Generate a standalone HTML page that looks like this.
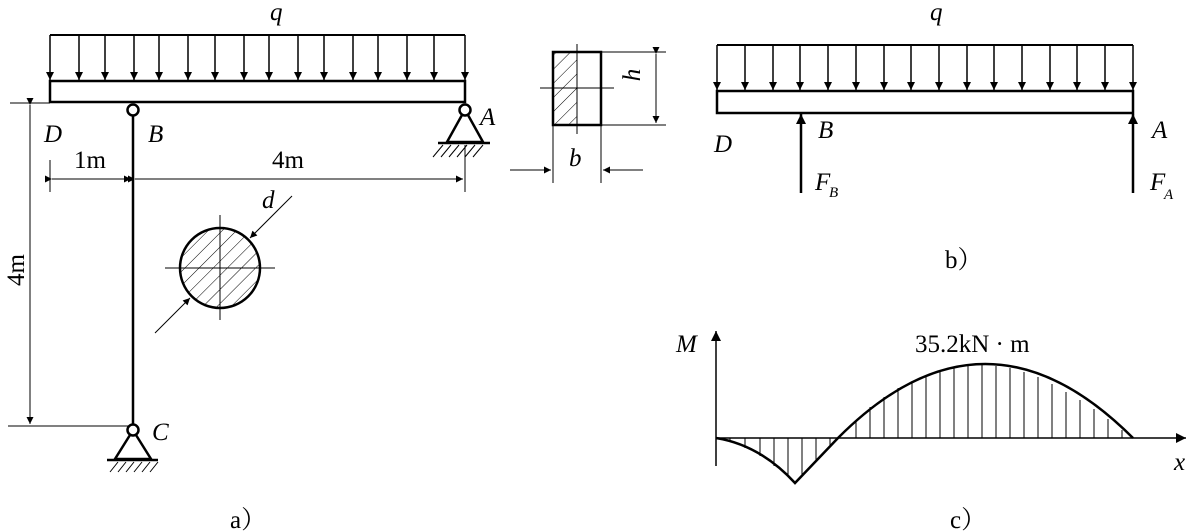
<!DOCTYPE html>
<html><head><meta charset="utf-8"><style>
body{margin:0;background:#fff}
svg{display:block}
text{font-family:"Liberation Serif","Noto Serif CJK SC",serif;fill:#000}
.i{font-style:italic}
</style></head><body>
<svg width="1190" height="532" viewBox="0 0 1190 532">
<defs>
<marker id="ar" viewBox="0 0 10 10" refX="10" refY="5" markerWidth="20" markerHeight="7" markerUnits="userSpaceOnUse" orient="auto"><path d="M0,0 L10,5 L0,10 Z" fill="#000"/></marker>
<marker id="ab" viewBox="0 0 10 10" refX="10" refY="5" markerWidth="16" markerHeight="8" markerUnits="userSpaceOnUse" orient="auto"><path d="M0,0 L10,5 L0,10 Z" fill="#000"/></marker>
<marker id="ac" viewBox="0 0 10 10" refX="10" refY="5" markerWidth="20" markerHeight="10" markerUnits="userSpaceOnUse" orient="auto"><path d="M0,0 L10,5 L0,10 Z" fill="#000"/></marker>
<pattern id="hatch" width="10" height="10" patternUnits="userSpaceOnUse" patternTransform="rotate(45)"><line x1="0" y1="0" x2="0" y2="10" stroke="#000" stroke-width="1"/></pattern>
<clipPath id="cc"><circle cx="220" cy="268" r="40"/></clipPath>
</defs>
<g stroke="#000" fill="none" stroke-width="1.5">
<line x1="50" y1="35" x2="465" y2="35" stroke-width="2"/>
<g stroke-width="1.5">
<line x1="50" y1="35" x2="50" y2="80" marker-end="url(#ab)"/><line x1="79" y1="35" x2="79" y2="80" marker-end="url(#ab)"/><line x1="105" y1="35" x2="105" y2="80" marker-end="url(#ab)"/><line x1="134" y1="35" x2="134" y2="80" marker-end="url(#ab)"/><line x1="159" y1="35" x2="159" y2="80" marker-end="url(#ab)"/><line x1="188" y1="35" x2="188" y2="80" marker-end="url(#ab)"/><line x1="215" y1="35" x2="215" y2="80" marker-end="url(#ab)"/><line x1="244" y1="35" x2="244" y2="80" marker-end="url(#ab)"/><line x1="269" y1="35" x2="269" y2="80" marker-end="url(#ab)"/><line x1="298" y1="35" x2="298" y2="80" marker-end="url(#ab)"/><line x1="324" y1="35" x2="324" y2="80" marker-end="url(#ab)"/><line x1="353" y1="35" x2="353" y2="80" marker-end="url(#ab)"/><line x1="378" y1="35" x2="378" y2="80" marker-end="url(#ab)"/><line x1="407" y1="35" x2="407" y2="80" marker-end="url(#ab)"/><line x1="434" y1="35" x2="434" y2="80" marker-end="url(#ab)"/><line x1="465" y1="35" x2="465" y2="80" marker-end="url(#ab)"/>
</g>
<rect x="50" y="81" width="415" height="21" stroke-width="2.5"/>
<line x1="133" y1="116" x2="133" y2="424" stroke-width="2.5"/>
<circle cx="133" cy="110" r="5.5" stroke-width="2.5" fill="#fff"/>
<circle cx="133" cy="430" r="5.5" stroke-width="2.5" fill="#fff"/>
<path d="M130,435 L115,459 L151,459 L136,435" stroke-width="2.5"/>
<line x1="107" y1="460" x2="158" y2="460" stroke-width="2.5"/>
<path d="M110,472l8,-10M118,472l8,-10M126,472l8,-10M134,472l8,-10M142,472l8,-10M150,472l8,-10" stroke-width="1"/>
<circle cx="465" cy="110" r="5.5" stroke-width="2.5" fill="#fff"/>
<path d="M462,115 L447,142 L483,142 L468,115" stroke-width="2.5"/>
<line x1="438" y1="143" x2="490" y2="143" stroke-width="2.5"/>
<path d="M433,157l10,-12M441,157l10,-12M449,157l10,-12M457,157l10,-12M465,157l10,-12M473,157l10,-12" stroke-width="1"/>
<line x1="50" y1="160" x2="50" y2="192" stroke-width="1"/>
<line x1="465" y1="145" x2="465" y2="192" stroke-width="1"/>
<line x1="52" y1="179" x2="131" y2="179" marker-start="url(#ar)" marker-end="url(#ar)" stroke-width="1"/>
<line x1="135" y1="179" x2="463" y2="179" marker-start="url(#ar)" marker-end="url(#ar)" stroke-width="1"/>
<line x1="10" y1="103" x2="50" y2="103" stroke-width="1"/>
<line x1="8" y1="426" x2="128" y2="426" stroke-width="1"/>
<line x1="30" y1="105" x2="30" y2="424" marker-start="url(#ar)" marker-end="url(#ar)" stroke-width="1"/>
<rect x="175" y="225" width="90" height="90" fill="url(#hatch)" stroke="none" clip-path="url(#cc)"/>
<circle cx="220" cy="268" r="40" stroke-width="2.5"/>
<line x1="165" y1="268" x2="275" y2="268" stroke-width="1"/>
<line x1="220" y1="215" x2="220" y2="320" stroke-width="1"/>
<line x1="292" y1="196" x2="250" y2="238" stroke-width="1" marker-end="url(#ar)"/>
<line x1="155" y1="333" x2="190" y2="298" stroke-width="1" marker-end="url(#ar)"/>
<rect x="553" y="52" width="24" height="73" fill="url(#hatch)" stroke="none"/>
<rect x="553" y="52" width="48" height="73" stroke-width="2.5"/>
<line x1="540" y1="88" x2="614" y2="88" stroke-width="1"/>
<line x1="577" y1="44" x2="577" y2="134" stroke-width="1"/>
<line x1="601" y1="52" x2="666" y2="52" stroke-width="1"/>
<line x1="601" y1="125" x2="666" y2="125" stroke-width="1"/>
<line x1="656" y1="54" x2="656" y2="123" marker-start="url(#ar)" marker-end="url(#ar)" stroke-width="1"/>
<line x1="553" y1="125" x2="553" y2="183" stroke-width="1"/>
<line x1="601" y1="125" x2="601" y2="183" stroke-width="1"/>
<line x1="510" y1="170" x2="551" y2="170" marker-end="url(#ar)" stroke-width="1"/>
<line x1="643" y1="170" x2="603" y2="170" marker-end="url(#ar)" stroke-width="1"/>
<line x1="717" y1="45" x2="1133" y2="45" stroke-width="2"/>
<g>
<line x1="717" y1="45" x2="717" y2="90" marker-end="url(#ab)"/><line x1="745" y1="45" x2="745" y2="90" marker-end="url(#ab)"/><line x1="773" y1="45" x2="773" y2="90" marker-end="url(#ab)"/><line x1="800" y1="45" x2="800" y2="90" marker-end="url(#ab)"/><line x1="828" y1="45" x2="828" y2="90" marker-end="url(#ab)"/><line x1="856" y1="45" x2="856" y2="90" marker-end="url(#ab)"/><line x1="884" y1="45" x2="884" y2="90" marker-end="url(#ab)"/><line x1="911" y1="45" x2="911" y2="90" marker-end="url(#ab)"/><line x1="939" y1="45" x2="939" y2="90" marker-end="url(#ab)"/><line x1="967" y1="45" x2="967" y2="90" marker-end="url(#ab)"/><line x1="994" y1="45" x2="994" y2="90" marker-end="url(#ab)"/><line x1="1022" y1="45" x2="1022" y2="90" marker-end="url(#ab)"/><line x1="1050" y1="45" x2="1050" y2="90" marker-end="url(#ab)"/><line x1="1077" y1="45" x2="1077" y2="90" marker-end="url(#ab)"/><line x1="1105" y1="45" x2="1105" y2="90" marker-end="url(#ab)"/><line x1="1133" y1="45" x2="1133" y2="90" marker-end="url(#ab)"/>
</g>
<rect x="717" y="91" width="416" height="22" stroke-width="2.5"/>
<line x1="801" y1="193" x2="801" y2="114" stroke-width="2.5" marker-end="url(#ac)"/>
<line x1="1133" y1="193" x2="1133" y2="114" stroke-width="2.5" marker-end="url(#ac)"/>
<line x1="716" y1="466" x2="716" y2="331" stroke-width="1.5" marker-end="url(#ac)"/>
<line x1="716" y1="438" x2="1186" y2="438" stroke-width="1.5" marker-end="url(#ac)"/>
<g stroke-width="1">
<line x1="730" y1="438" x2="730" y2="442"/><line x1="745" y1="438" x2="745" y2="448"/><line x1="760" y1="438" x2="760" y2="456"/><line x1="774" y1="438" x2="774" y2="466"/><line x1="788" y1="438" x2="788" y2="476"/><line x1="802" y1="438" x2="802" y2="475"/><line x1="816" y1="438" x2="816" y2="460"/><line x1="830" y1="438" x2="830" y2="445"/>
<line x1="856" y1="438" x2="856" y2="420"/><line x1="870" y1="438" x2="870" y2="407"/><line x1="884" y1="438" x2="884" y2="397"/><line x1="898" y1="438" x2="898" y2="388"/><line x1="912" y1="438" x2="912" y2="381"/><line x1="926" y1="438" x2="926" y2="375"/><line x1="940" y1="438" x2="940" y2="370"/><line x1="954" y1="438" x2="954" y2="367"/><line x1="968" y1="438" x2="968" y2="366"/><line x1="982" y1="438" x2="982" y2="365"/><line x1="996" y1="438" x2="996" y2="366"/><line x1="1010" y1="438" x2="1010" y2="368"/><line x1="1024" y1="438" x2="1024" y2="372"/><line x1="1038" y1="438" x2="1038" y2="377"/><line x1="1052" y1="438" x2="1052" y2="384"/><line x1="1066" y1="438" x2="1066" y2="392"/><line x1="1080" y1="438" x2="1080" y2="400"/><line x1="1094" y1="438" x2="1094" y2="409"/><line x1="1108" y1="438" x2="1108" y2="419"/><line x1="1122" y1="438" x2="1122" y2="430"/>
</g>
<path d="M716,438 Q760,445 795,483 L838,438 Q985,290 1133,438" stroke-width="2.5"/>
</g>
<g font-size="25">
<text x="270" y="20" class="i">q</text>
<text x="44" y="142" class="i">D</text>
<text x="148" y="142" class="i">B</text>
<text x="480" y="125" class="i">A</text>
<text x="152" y="440" class="i">C</text>
<text x="74" y="168">1m</text>
<text x="272" y="168">4m</text>
<text transform="translate(24,270) rotate(-90)" text-anchor="middle">4m</text>
<text x="262" y="208" class="i">d</text>
<text transform="translate(640,75) rotate(-90)" text-anchor="middle" class="i">h</text>
<text x="569" y="166" class="i">b</text>
<text x="930" y="20" class="i">q</text>
<text x="714" y="152" class="i">D</text>
<text x="818" y="138" class="i">B</text>
<text x="1152" y="138" class="i">A</text>
<text x="815" y="190" class="i">F</text><text x="829" y="197" class="i" font-size="15">B</text>
<text x="1150" y="190" class="i">F</text><text x="1164" y="199" class="i" font-size="15">A</text>
<text x="945" y="268">b）</text>
<text x="676" y="352" class="i">M</text>
<text x="1174" y="470" class="i">x</text>
<text x="915" y="352">35.2kN · m</text>
<text x="230" y="528">a）</text>
<text x="950" y="528">c）</text>
</g>
</svg>
</body></html>
